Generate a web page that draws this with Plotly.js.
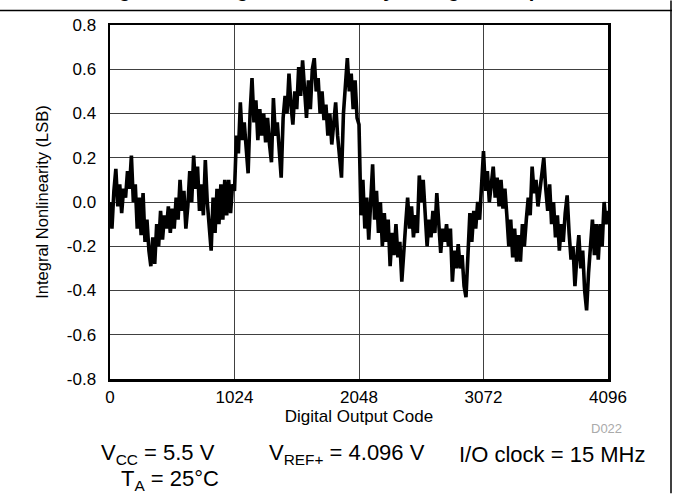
<!DOCTYPE html>
<html>
<head>
<meta charset="utf-8">
<script src="https://cdn.plot.ly/plotly-3.0.1.min.js"></script>
<style>html,body{margin:0;padding:0;background:#fff;}#chart{width:673px;height:494px;}</style>
</head>
<body>
<div id="chart"></div>
<script>
const codeStep = 16;
const inlValues = [
  // 0 - 240
  0.0, -0.12, 0.05, 0.15, -0.02, 0.08, -0.05, 0.06, 0.02, 0.14, 0.06, 0.21, 0.0, 0.08, -0.12, 0.02,
  // 256 - 496
  -0.15, 0.04, -0.18, -0.08, -0.22, -0.29, -0.16, -0.28, -0.1, -0.2, -0.04, -0.17, -0.06, -0.12, -0.02, -0.14,
  // 512 - 752
  -0.03, -0.12, 0.02, -0.08, 0.1, -0.04, 0.05, -0.12, -0.02, 0.14, 0.0, 0.21, 0.06, 0.16, -0.04, 0.08,
  // 768 - 1008
  -0.06, 0.19, 0.0, -0.12, -0.22, 0.02, -0.14, 0.06, -0.1, 0.08, -0.08, 0.1, -0.06, 0.1, -0.05, 0.08,
  // 1024 - 1264
  0.05, 0.3, 0.22, 0.45, 0.28, 0.36, 0.22, 0.13, 0.4, 0.56, 0.36, 0.46, 0.28, 0.42, 0.3, 0.4,
  // 1280 - 1520
  0.27, 0.38, 0.26, 0.18, 0.47, 0.3, 0.36, 0.2, 0.11, 0.38, 0.48, 0.4, 0.58, 0.44, 0.35, 0.5,
  // 1536 - 1776
  0.42, 0.61, 0.48, 0.64, 0.5, 0.38, 0.55, 0.42, 0.6, 0.65, 0.5, 0.56, 0.4, 0.5, 0.37, 0.44,
  // 1792 - 2032
  0.3, 0.4, 0.26, 0.36, 0.45, 0.3, 0.22, 0.11, 0.4, 0.52, 0.65, 0.5, 0.58, 0.42, 0.55, 0.38,
  // 2048 - 2288
  0.35, -0.06, 0.1, -0.12, 0.02, -0.17, 0.0, 0.17, -0.08, 0.05, -0.14, 0.0, -0.2, -0.05, -0.18, -0.08,
  // 2304 - 2544
  -0.29, -0.14, -0.24, -0.1, -0.25, -0.18, -0.36, -0.2, -0.1, 0.02, -0.12, -0.02, -0.16, -0.06, -0.14, 0.12,
  // 2560 - 2800
  0.0, 0.1, -0.06, -0.2, -0.08, -0.16, -0.04, -0.14, 0.04, -0.1, -0.23, -0.12, -0.18, -0.1, -0.2, -0.12,
  // 2816 - 3056
  -0.36, -0.22, -0.3, -0.19, -0.3, -0.24, -0.38, -0.43, -0.2, -0.05, -0.18, -0.04, -0.12, 0.0, -0.08, 0.06,
  // 3072 - 3312
  0.23, 0.05, 0.14, 0.0, 0.1, 0.16, 0.02, 0.11, -0.02, 0.1, -0.03, 0.06, -0.06, -0.2, -0.08, -0.25,
  // 3328 - 3568
  -0.12, -0.27, -0.15, -0.27, -0.1, -0.2, -0.08, 0.02, -0.06, 0.16, 0.04, 0.1, -0.02, 0.05, 0.12, 0.2,
  // 3584 - 3824
  0.06, -0.04, 0.08, -0.1, 0.0, -0.16, -0.06, -0.22, -0.1, -0.18, -0.05, 0.03, -0.14, -0.26, -0.2, -0.38,
  // 3840 - 4096
  -0.25, -0.15, -0.3, -0.22, -0.4, -0.49, -0.32, -0.22, -0.08, -0.24, -0.1, -0.26, -0.1, -0.2, 0.0, -0.1, -0.04
];
const codes = inlValues.map((_, i) => i * codeStep);

const xTickVals = [0, 1024, 2048, 3072, 4096];
const xTickLabels = ["0", "1024", "2048", "3072", "4096"];
const yTickVals = [-0.8, -0.6, -0.4, -0.2, 0.0, 0.2, 0.4, 0.6, 0.8];
const yTickLabels = ["-0.8", "-0.6", "-0.4", "-0.2", "0.0", "0.2", "0.4", "0.6", "0.8"];

const titleText = "Figure 22. Integral Nonlinearity vs Digital Output Code";
const xTitle = "Digital Output Code";
const yTitle = "Integral Nonlinearity (LSB)";
const figId = "D022";
const conditions = [
  "V<sub>CC</sub> = 5.5 V",
  "V<sub>REF+</sub> = 4.096 V",
  "I/O clock = 15 MHz",
  "T<sub>A</sub> = 25°C"
];

const font = "Arial, 'Liberation Sans', sans-serif";
const L = 110, R = 65, T = 24.5, B = 114.5;
const W = 673, H = 494;
const pw = W - L - R, ph = H - T - B;
const px2x = px => (px - L) / pw;
const py2y = py => (H - B - py) / ph;

const trace = {
  x: codes, y: inlValues, type: "scatter", mode: "lines",
  line: {color: "#000", width: 3.6}, hoverinfo: "skip", showlegend: false
};

const layout = {
  width: W, height: H,
  margin: {l: L, r: R, t: T, b: B, pad: 0},
  paper_bgcolor: "#fff", plot_bgcolor: "#fff",
  font: {family: font, color: "#000", size: 17},
  showlegend: false,
  xaxis: {
    range: [0, 4096], tickvals: xTickVals, ticktext: xTickLabels,
    showgrid: true, gridcolor: "#404040", gridwidth: 1,
    zeroline: false, showline: true, mirror: true, linecolor: "#000", linewidth: 2.5,
    ticks: "", ticklabelstandoff: 1,
    tickfont: {family: font, size: 17, color: "#000"},
    title: {text: xTitle, font: {family: font, size: 17, color: "#000"}, standoff: 0},
    automargin: false, fixedrange: true
  },
  yaxis: {
    range: [-0.8, 0.8], tickvals: yTickVals, ticktext: yTickLabels,
    showgrid: true, gridcolor: "#404040", gridwidth: 1,
    zeroline: false, showline: true, mirror: true, linecolor: "#000", linewidth: 2.5,
    ticks: "", ticklabelstandoff: 8,
    tickfont: {family: font, size: 17, color: "#000"},
    title: {text: yTitle, font: {family: font, size: 16.5, color: "#000"}, standoff: 14},
    automargin: false, fixedrange: true
  },
  shapes: [
    {type: "line", xref: "paper", yref: "paper", x0: px2x(0), x1: px2x(672), y0: py2y(10), y1: py2y(10),
     line: {color: "#000", width: 1.5}},
    {type: "line", xref: "paper", yref: "paper", x0: px2x(671), x1: px2x(671), y0: py2y(0), y1: py2y(494),
     line: {color: "#000", width: 1.5}}
  ],
  annotations: [
    {text: "<b>" + titleText + "</b>", xref: "paper", yref: "paper", x: px2x(358), y: py2y(1.8),
     xanchor: "center", yanchor: "bottom", showarrow: false, borderpad: 0,
     font: {family: font, size: 20, color: "#000"}},
    {text: figId, xref: "paper", yref: "paper", x: px2x(606), y: py2y(429),
     xanchor: "center", yanchor: "middle", showarrow: false, font: {family: font, size: 13, color: "#aaa"}},
    {text: conditions[0], xref: "paper", yref: "paper", x: px2x(158), y: py2y(455),
     xanchor: "center", yanchor: "middle", showarrow: false, font: {family: font, size: 22, color: "#000"}},
    {text: conditions[1], xref: "paper", yref: "paper", x: px2x(347), y: py2y(455),
     xanchor: "center", yanchor: "middle", showarrow: false, font: {family: font, size: 22, color: "#000"}},
    {text: conditions[2], xref: "paper", yref: "paper", x: px2x(552), y: py2y(455),
     xanchor: "center", yanchor: "middle", showarrow: false, font: {family: font, size: 22, color: "#000"}},
    {text: conditions[3], xref: "paper", yref: "paper", x: px2x(170), y: py2y(481),
     xanchor: "center", yanchor: "middle", showarrow: false, font: {family: font, size: 22, color: "#000"}}
  ]
};

Plotly.newPlot("chart", [trace], layout, {staticPlot: true, displayModeBar: false});
</script>
</body>
</html>
